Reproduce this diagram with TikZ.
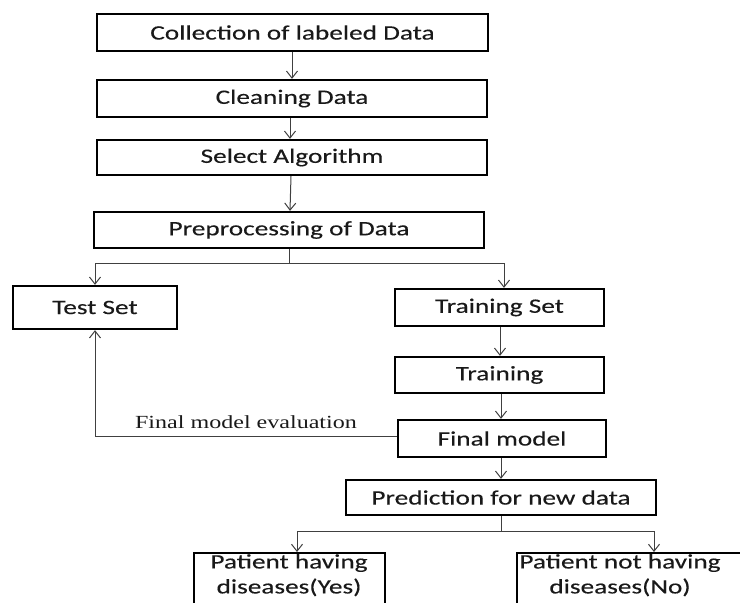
\documentclass[tikz,border=0pt]{standalone}
\usepackage{fontspec}
\setmainfont[FakeStretch=1.33,FakeBold=0.2]{Carlito}
\newfontfamily\evalfont[FakeStretch=1.3]{Liberation Serif}
\usetikzlibrary{arrows.meta}
\begin{document}
\begin{tikzpicture}[x=1pt,y=-1pt,
  box/.style={draw=black, line width=2.3pt, rectangle, inner sep=0pt,
    font=\fontsize{20.5}{25}\selectfont, text=black!90, align=center},
  boxtext/.style={font=\fontsize{20.5}{25}\selectfont, text=black!90, align=center, inner sep=0pt},
  arr/.style={draw=black!75, line width=1pt, -{Straight Barb[length=7pt,width=11pt,line width=1pt]}},
  ln/.style={draw=black!75, line width=1pt}]
\useasboundingbox (0,0) rectangle (740,603);
\clip (0,0) rectangle (740,603);
\fill[white] (0,0) rectangle (740,603);

\node[box, minimum width=391pt, minimum height=37pt] (c1) at (292.5,32.5) {Collection of labeled Data};
\node[box, minimum width=390pt, minimum height=37pt] (c2) at (292,98.5) {Cleaning Data};
\node[box, minimum width=390pt, minimum height=35pt] (c3) at (292,157.5) {Select Algorithm};
\node[box, minimum width=390pt, minimum height=36pt] (c4) at (289,230) {Preprocessing of Data};
\node[box, minimum width=164pt, minimum height=43pt] (test) at (95,307.5) {Test Set};
\node[box, minimum width=209pt, minimum height=37pt] (tset) at (499.5,307.5) {Training Set};
\node[box, minimum width=209pt, minimum height=36pt] (train) at (499.5,375) {Training};
\node[box, minimum width=208pt, minimum height=37pt] (final) at (502,438.5) {Final model};
\node[box, minimum width=310pt, minimum height=35pt] (pred) at (501,497.5) {Prediction for new data};
\node[box, minimum width=191pt, minimum height=58pt, anchor=north west] (yes) at (193,552) {};
\node[boxtext, anchor=north] (yestext) at (289,554) {Patient having\\diseases(Yes)};
\node[box, minimum width=260pt, minimum height=58pt, anchor=north west] (no) at (516,552) {};
\node[boxtext, anchor=north] (notext) at (620,554) {Patient not having\\diseases(No)};

\coordinate (split) at (289,263);
\coordinate (split2) at (501,531);

\draw[arr] (c1.south -| 292,0) -- (c2.north -| 292,0);
\draw[arr] (c2.south -| 290,0) -- (c3.north -| 290,0);
\draw[arr] (c3.south -| 291,0) -- (c4.north -| 290,0);
\draw[ln] (c4.south) -- (split);
\draw[arr] (split) -| (test.north);
\draw[arr] (split) -| (tset.north -| 504,0);
\draw[arr] (tset.south -| 500,0) -- (train.north -| 500,0);
\draw[arr] (train.south -| 501,0) -- (final.north -| 501,0);
\draw[arr] (final.west |- 0,436) -| (test.south);
\node[font=\evalfont\fontsize{18.5}{20}\selectfont, text=black!90, inner sep=0pt, anchor=base] (evallabel) at (246,428) {Final model evaluation};
\draw[arr] (final.south -| 501,0) -- (pred.north -| 501,0);
\draw[ln] (pred.south -| 501,0) -- (split2);
\draw[arr] (split2) -| (yes.north -| 297,0);
\draw[arr] (split2) -| (no.north -| 654,0);
\end{tikzpicture}
\end{document}
